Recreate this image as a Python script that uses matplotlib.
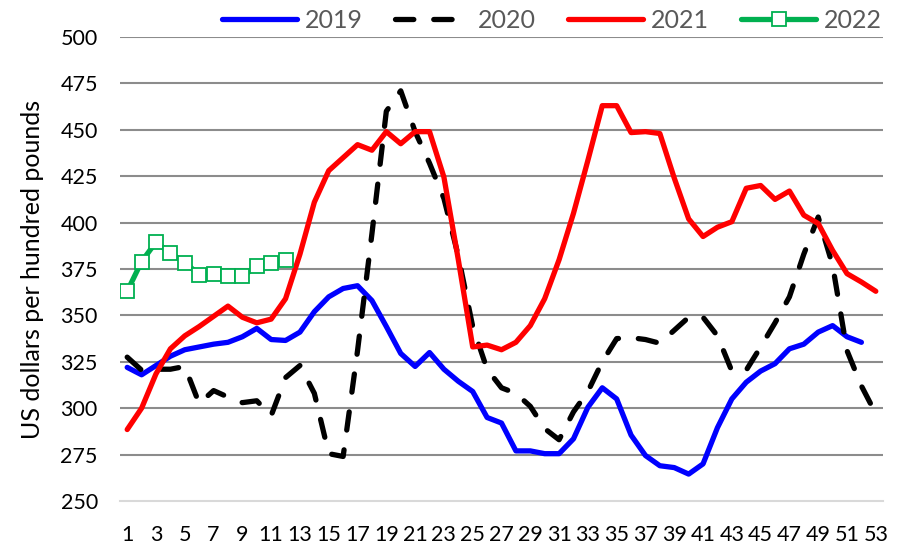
import matplotlib
matplotlib.use("Agg")
import matplotlib.pyplot as plt

plt.rcParams['font.family'] = ['Lato', 'DejaVu Sans']

weeks_2019 = list(range(1, 53))
vals_2019 = [322, 318, 323, 328, 331.5, 333, 334.5, 335.5, 338.5, 343,
             337, 336.5, 341, 352, 360, 364.5, 366, 358, 344, 329.5,
             322.5, 330, 321, 314.5, 309, 295, 292, 277, 277, 275.5,
             275.5, 283.5, 300.5, 311, 305, 285.5, 274.5, 269, 268, 264.5,
             270, 289.5, 305, 314, 320, 324, 332, 334.5, 341, 344.5,
             338.5, 335.5]

weeks_2020 = list(range(1, 54))
vals_2020 = [327.5, 320.5, 321, 321, 322.5, 302.5, 309.5, 306, 303, 304,
             296, 316.5, 323, 308, 275.5, 274, 331, 394, 460, 471,
             449, 432, 413, 382, 344, 321, 311, 308, 301, 289,
             283, 298, 309, 325, 337.5, 338, 337, 335, 342, 349,
             349, 339, 320, 320.5, 333, 346, 360, 383, 403, 377,
             331, 312, 297]

weeks_2021 = list(range(1, 54))
vals_2021 = [288.5, 300, 318.5, 332, 339, 344, 349.5, 355, 349, 346,
             348, 359, 383, 411, 428, 435, 442, 439, 449, 442.5,
             449, 449, 424.5, 380, 333, 334, 331.5, 335.5, 344.5, 359,
             380, 405, 433.5, 463, 463, 448.5, 449, 448, 424, 402,
             392.5, 397.5, 400.5, 418.5, 420, 412.5, 417, 404, 399.5, 385,
             372.5, 368, 363]

weeks_2022 = list(range(1, 13))
vals_2022 = [363, 379, 389.5, 383.5, 378.5, 372, 372.5, 371, 371, 376.5,
             378, 380]

series_labels = ['2019', '2020', '2021', '2022']
y_ticks = [250, 275, 300, 325, 350, 375, 400, 425, 450, 475, 500]
x_ticks = list(range(1, 54, 2))
y_label = 'US dollars per hundred pounds'

fig = plt.figure(figsize=(9.06, 5.47), dpi=100)
ax = fig.add_axes([120/906, 46/547, 763/906, 464/547])

lw = 3.8
ax.plot(weeks_2019, vals_2019, color='#0000FF', lw=lw,
        solid_capstyle='round', solid_joinstyle='round', label=series_labels[0], zorder=3)
ax.plot(weeks_2020, vals_2020, color='#000000', lw=lw, linestyle=(0, (3.47, 3.78)),
        dash_capstyle='round', dash_joinstyle='round', label=series_labels[1], zorder=3)
ax.plot(weeks_2021, vals_2021, color='#FF0000', lw=lw,
        solid_capstyle='round', solid_joinstyle='round', label=series_labels[2], zorder=3)
ax.plot(weeks_2022, vals_2022, color='#00B050', lw=lw, marker='s', markersize=10.5,
        markerfacecolor='white', markeredgecolor='#00B050', markeredgewidth=1.3,
        solid_capstyle='round', label=series_labels[3], zorder=4)

ax.set_xlim(0.5, 53.5)
ax.set_ylim(250, 500)
ax.set_yticks(y_ticks)
ax.set_xticks(x_ticks)
ax.set_xticklabels([str(t) for t in x_ticks])
ax.tick_params(axis='both', length=0, labelsize=15.5, colors='black')
ax.tick_params(axis='y', pad=16)
ax.tick_params(axis='x', pad=17)

for y in y_ticks[1:]:
    ax.axhline(y, color='#8c8c8c', lw=1.5, zorder=1)
for s in ['top', 'right', 'left']:
    ax.spines[s].set_visible(False)
ax.spines['bottom'].set_color('#d9d9d9')
ax.spines['bottom'].set_linewidth(1.5)

ax.set_ylabel(y_label, fontsize=18, labelpad=12)

leg = fig.legend(loc='center', bbox_to_anchor=(552/906, 1 - 20/547), ncol=4,
                 frameon=False, fontsize=18, handlelength=3.0, handletextpad=0.3,
                 columnspacing=1.3, labelcolor='#595959')

fig.savefig('out.png', dpi=100)
